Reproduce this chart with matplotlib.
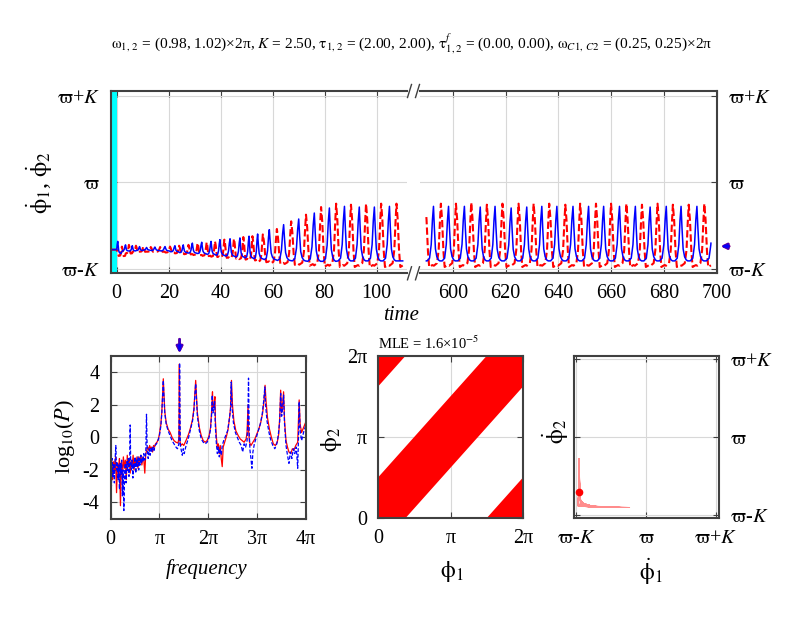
import matplotlib

matplotlib.use("Agg")
import matplotlib.pyplot as plt  # noqa: E402
import numpy as np  # noqa: E402
from matplotlib.lines import Line2D  # noqa: E402

plt.rcParams["font.family"] = ["Liberation Serif", "DejaVu Serif"]
plt.rcParams["mathtext.fontset"] = "stix"
plt.rcParams["axes.unicode_minus"] = False

# model parameters (title)
omega = [0.98, 1.02]
K = 2.50
tau = [2.00, 2.00]
tau_f = [0.00, 0.00]
omega_c = [0.25, 0.25]
mle_mant, mle_exp = 1.6, -5

# mean frequencies (units of pi) marked by arrows
mean_freq = [1.414, 1.414]

# time series, normalised (phi_dot - varpi) / K
hist_v = -0.775

# left segment (t 0..110)
blue_t_a = [0.4, 3.4, 6.0, 8.8, 11.5, 14.7, 18.6, 22.4, 25.6, 29.1, 32.7, 36.3, 39.7,
            43.6, 47.4, 50.9, 54.2, 58.7, 64.2, 70.0, 76.0, 81.8, 87.6, 93.3, 99.1, 104.9]
blue_top_a = [-0.68, -0.72, -0.73, -0.74, -0.75, -0.745, -0.74, -0.73, -0.72, -0.70, -0.69,
              -0.68, -0.66, -0.65, -0.64, -0.62, -0.595, -0.545, -0.487, -0.422, -0.353,
              -0.295, -0.276, -0.284, -0.284, -0.276]
blue_low_a = [-0.82, -0.79, -0.79, -0.785, -0.78, -0.785, -0.79, -0.80, -0.81, -0.815, -0.82,
              -0.83, -0.84, -0.85, -0.86, -0.87, -0.88, -0.89, -0.90, -0.905, -0.91, -0.91,
              -0.905, -0.905, -0.905, -0.905]
red_t_a = [2.0, 4.7, 7.4, 10.2, 13.1, 16.7, 20.5, 24.0, 27.6, 31.1, 34.6, 37.8, 41.4, 45.1,
           48.7, 52.2, 56.2, 61.6, 67.1, 72.8, 78.6, 84.4, 90.1, 95.9, 101.7, 107.6]
red_top_a = [-0.74, -0.72, -0.73, -0.74, -0.745, -0.745, -0.74, -0.73, -0.72, -0.70, -0.69,
             -0.68, -0.66, -0.65, -0.63, -0.62, -0.60, -0.537, -0.449, -0.372, -0.284,
             -0.245, -0.257, -0.245, -0.245, -0.245]
red_low_a = [-0.85, -0.82, -0.80, -0.80, -0.80, -0.80, -0.81, -0.82, -0.83, -0.84, -0.85,
             -0.86, -0.87, -0.88, -0.89, -0.90, -0.92, -0.94, -0.95, -0.96, -0.97, -0.975,
             -0.975, -0.975, -0.975, -0.975]

# right segment (t 590..697.7)
blue_t_b = [592.7, 598.4, 604.4, 610.4, 616.0, 622.1, 628.0, 633.7, 639.4, 645.5, 651.4,
            657.1, 663.1, 669.1, 674.7, 680.8, 686.4, 692.4, 698.6]
blue_top_b = [-0.276, -0.276, -0.276, -0.284, -0.276, -0.295, -0.284, -0.276, -0.276, -0.276,
              -0.276, -0.276, -0.276, -0.276, -0.284, -0.276, -0.276, -0.276, -0.28]
blue_low_b = [-0.905] * 19
red_t_b = [589.6, 595.5, 601.2, 607.0, 612.9, 618.8, 624.9, 630.6, 636.5, 642.6, 648.2,
           654.2, 659.9, 665.7, 671.6, 677.5, 683.3, 689.3, 695.2]
red_top_b = [-0.245, -0.245, -0.245, -0.232, -0.257, -0.245, -0.245, -0.245, -0.245, -0.257,
             -0.245, -0.245, -0.245, -0.245, -0.257, -0.245, -0.257, -0.257, -0.245]
red_low_b = [-0.975] * 19
t_end_a, t_start_b, t_end_b = 110.0, 590.0, 697.7

# power spectra: frequency / pi, log10(P)
red_f = [0.00, 0.02, 0.04, 0.06, 0.08, 0.10, 0.12, 0.14, 0.16, 0.18, 0.20, 0.22, 0.24, 0.26,
         0.28, 0.30, 0.32, 0.34, 0.36, 0.38, 0.40, 0.42, 0.44, 0.46, 0.48, 0.50, 0.52, 0.54,
         0.56, 0.58, 0.60, 0.62, 0.64, 0.66, 0.68, 0.70, 0.72, 0.74, 0.76, 0.78, 0.80, 0.82,
         0.84, 0.86, 0.88, 0.90, 0.92, 0.95, 0.98, 1.00, 1.03, 1.05, 1.07, 1.08, 1.09, 1.11,
         1.14, 1.18, 1.22, 1.26, 1.30, 1.34, 1.38, 1.40, 1.41, 1.42, 1.44, 1.47, 1.50, 1.53,
         1.56, 1.60, 1.64, 1.68, 1.71, 1.73, 1.745, 1.76, 1.78, 1.82, 1.86, 1.90, 1.94, 1.98,
         2.02, 2.05, 2.07, 2.09, 2.10, 2.12, 2.14, 2.15, 2.17, 2.19, 2.21, 2.23, 2.25, 2.27,
         2.29, 2.31, 2.34, 2.38, 2.41, 2.44, 2.46, 2.48, 2.50, 2.53, 2.57, 2.62, 2.66, 2.70,
         2.74, 2.78, 2.80, 2.82, 2.83, 2.85, 2.88, 2.92, 2.96, 3.00, 3.04, 3.08, 3.12, 3.15,
         3.17, 3.19, 3.22, 3.26, 3.30, 3.34, 3.38, 3.42, 3.45, 3.47, 3.49, 3.51, 3.53, 3.55,
         3.57, 3.60, 3.63, 3.66, 3.70, 3.73, 3.76, 3.80, 3.84, 3.87, 3.89, 3.92, 3.96, 4.00]
red_p = [-2.2, -1.4, -2.6, -1.5, -2.0, -1.2, -3.4, -1.6, -2.1, -1.3, -4.2, -1.5, -2.3, -1.2,
         -1.9, -1.4, -2.6, -1.1, -1.8, -1.3, -2.2, -1.4, -1.8, -1.1, -2.0, -1.3, -1.6, -1.2,
         -1.9, -1.2, -1.5, -1.1, -1.7, -1.2, -1.4, -2.2, -1.0, -0.8, -0.6, -0.8, -0.5, -0.7,
         -0.6, -0.9, -0.5, -0.6, -0.4, -0.3, -0.1, 0.2, 0.8, 1.6, 3.0, 3.6, 2.9, 1.6,
         0.9, 0.5, 0.3, 0.0, -0.2, -0.3, -0.35, -0.1, 4.5, -0.2, -0.5, -0.4, -0.5, -0.3,
         -0.1, 0.2, 0.6, 1.1, 1.8, 2.8, 3.5, 2.6, 1.5, 0.6, 0.1, -0.2, -0.3, -0.2,
         0.1, 0.6, 1.5, 2.8, 1.8, 2.0, 2.5, 1.0, 0.0, -0.6, -0.4, -1.0, -0.5, -1.3,
         -1.8, -0.6, -0.3, 0.1, 0.5, 1.2, 1.8, 3.5, 2.0, 1.0, 0.4, 0.1, -0.1, -0.2,
         -0.3, -0.1, 0.3, 2.0, 0.5, -0.3, -0.5, -0.3, -0.1, 0.2, 0.5, 0.9, 1.5, 2.3,
         3.2, 2.2, 1.2, 0.5, 0.0, -0.4, -0.5, -0.3, 0.2, 1.2, 2.9, 1.5, 2.0, 2.8,
         1.0, -0.2, -0.6, -0.9, -1.0, -0.7, -0.8, -0.5, -0.3, 2.3, 0.8, 0.3, 0.6, 0.9]
blue_f = [0.00, 0.015, 0.03, 0.045, 0.06, 0.075, 0.09, 0.105, 0.12, 0.135, 0.15, 0.165, 0.18,
          0.195, 0.21, 0.225, 0.24, 0.255, 0.27, 0.285, 0.30, 0.315, 0.33, 0.345, 0.36, 0.375,
          0.39, 0.40, 0.41, 0.425, 0.44, 0.455, 0.47, 0.485, 0.50, 0.515, 0.53, 0.545, 0.56,
          0.575, 0.59, 0.605, 0.62, 0.635, 0.65, 0.665, 0.68, 0.70, 0.72, 0.735, 0.75, 0.77,
          0.79, 0.81, 0.83, 0.85, 0.87, 0.89, 0.91, 0.94, 0.97, 1.00, 1.03, 1.05, 1.07, 1.08,
          1.09, 1.11, 1.14, 1.18, 1.22, 1.26, 1.30, 1.34, 1.37, 1.40, 1.415, 1.43, 1.45, 1.47,
          1.49, 1.51, 1.54, 1.57, 1.60, 1.64, 1.68, 1.71, 1.73, 1.745, 1.76, 1.78, 1.82, 1.86,
          1.90, 1.94, 1.98, 2.02, 2.05, 2.07, 2.085, 2.10, 2.12, 2.135, 2.15, 2.17, 2.19, 2.21,
          2.23, 2.25, 2.27, 2.29, 2.32, 2.36, 2.40, 2.43, 2.46, 2.475, 2.49, 2.52, 2.56, 2.60,
          2.64, 2.68, 2.71, 2.74, 2.77, 2.80, 2.815, 2.83, 2.845, 2.86, 2.88, 2.90, 2.92, 2.95,
          2.99, 3.03, 3.07, 3.11, 3.14, 3.165, 3.18, 3.21, 3.25, 3.29, 3.33, 3.37, 3.41, 3.44,
          3.47, 3.49, 3.51, 3.53, 3.55, 3.57, 3.60, 3.63, 3.66, 3.69, 3.72, 3.75, 3.78, 3.81,
          3.84, 3.86, 3.87, 3.89, 3.92, 3.96, 4.00]
blue_p = [-1.8, -3.0, -1.3, -2.4, -1.6, -2.8, -1.4, -0.5, -2.0, -1.5, -2.6, -1.7, -3.2,
          -1.6, -2.3, -1.4, -3.6, -2.0, -4.5, -2.2, -1.6, -2.8, -1.5, -2.1, -1.3, -2.4,
          -1.6, 0.76, -1.5, -2.0, -1.4, -2.5, -1.6, -1.9, -1.2, -2.2, -1.4, -1.8, -1.2,
          -2.0, -1.3, -1.7, -1.1, -1.6, -1.2, -1.5, -1.0, -1.4, -1.0, 1.42, -0.8, -1.3,
          -0.7, -1.1, -0.6, -0.9, -0.6, -0.8, -0.5, -0.4, -0.2, 0.1, 0.7, 1.5, 2.9, 3.5,
          2.7, 1.5, 0.8, 0.4, 0.1, -0.2, -0.4, -0.6, -0.7, -0.4, 4.57, -0.5, -0.8, -1.1,
          -0.7, -1.0, -0.6, -0.3, 0.0, 0.5, 1.0, 1.7, 2.7, 3.3, 2.4, 1.3, 0.4, -0.1,
          -0.3, -0.4, -0.3, 0.0, 0.5, 1.3, 2.6, 1.5, 1.9, 2.2, 0.6, -0.4, -1.0, -0.6,
          -1.2, -0.7, -1.1, -0.5, -0.2, 0.1, 0.4, 1.0, 1.7, 3.4, 1.9, 0.9, 0.3, 0.0,
          -0.3, -0.5, -0.9, -0.4, -0.6, -0.2, 1.0, 3.64, 0.2, -0.8, -1.3, -1.9, -0.9, -0.4,
          0.0, 0.4, 0.8, 1.4, 2.2, 3.1, 2.0, 1.0, 0.3, -0.2, -0.5, -0.7, -0.4, 0.1,
          1.0, 2.7, 1.3, 1.8, 2.6, 0.8, -0.5, -1.1, -1.6, -0.9, -1.3, -0.7, -1.0, -0.6,
          -1.9, 0.5, 2.2, 0.4, -0.2, 0.3, 0.7]

# phase difference band phi2 - phi1 (units of pi)
band_lo, band_hi = -0.36, 0.52

# spike shapes (fraction of local period, fraction of amplitude)
blue_offs = [-0.42, -0.26, -0.15, -0.07, 0.0, 0.06, 0.13, 0.22, 0.32, 0.42]
blue_fracs = [0.0, 0.05, 0.3, 0.75, 1.0, 0.6, 0.22, 0.08, 0.02, 0.0]
red_offs = [-0.45, -0.25, -0.14, -0.06, 0.0, 0.08, 0.17, 0.25, 0.45]
red_fracs = [0.02, 0.06, 0.27, 0.72, 1.0, 0.75, 0.25, 0.0, 0.03]

W, H = 800, 618
RED, BLUE, FRAME = "#ff0000", "#0000ff", "#404040"
TICK_FS = 14.5


def rect(left, right, top, bottom):
    return [left / W, 1 - bottom / H, (right - left) / W, (bottom - top) / H]


def spikes(tp, top, low, offs, fracs):
    tp = np.asarray(tp, dtype=float)
    gaps = np.diff(tp)
    before = np.r_[gaps[0], gaps]
    after = np.r_[gaps, gaps[-1]]
    t, v = [], []
    for i in range(len(tp)):
        for o, f in zip(offs, fracs):
            p = before[i] if o < 0 else after[i]
            t.append(tp[i] + o * p)
            v.append(low[i] + f * (top[i] - low[i]))
    order = np.argsort(t)
    return np.asarray(t)[order], np.asarray(v)[order]


def clip(t, v, t0, t1):
    keep = (t > t0) & (t < t1)
    tt = np.r_[t0, t[keep], t1]
    return tt, np.interp(tt, t, v)


def style_axes(ax):
    for s in ax.spines.values():
        s.set_color(FRAME)
        s.set_linewidth(1.5)
    ax.tick_params(direction="in", length=4, width=0.8, colors=FRAME, labelcolor="black",
                   labelsize=TICK_FS, pad=8)
    ax.grid(True, color="#d8d8d8", linewidth=0.8)
    ax.set_axisbelow(True)


speed_ticks = [-1, 0, 1]
speed_labels = [r"$\mathrm{\varpi}$-$K$", r"$\mathrm{\varpi}$", r"$\mathrm{\varpi}$+$K$"]

fig = plt.figure(figsize=(W / 100, H / 100), dpi=100)

# ---- top: time series with broken axis
ax1 = fig.add_axes(rect(111, 407, 91, 273.3))
ax2 = fig.add_axes(rect(420, 717, 91, 273.3))

bt, bv = spikes(blue_t_a, blue_top_a, blue_low_a, blue_offs, blue_fracs)
rt, rv = spikes(red_t_a, red_top_a, red_low_a, red_offs, red_fracs)
keep_b = (bt > 0) & (bt < t_end_a)
keep_r = (rt > 0) & (rt < t_end_a)
bt_a = np.r_[-tau[0], 0.0, bt[keep_b], t_end_a]
bv_a = np.r_[hist_v, hist_v, bv[keep_b], np.interp(t_end_a, bt, bv)]
rt_a = np.r_[-tau[0], 0.0, rt[keep_r], t_end_a]
rv_a = np.r_[hist_v, hist_v, rv[keep_r], np.interp(t_end_a, rt, rv)]

bt2, bv2 = spikes(blue_t_b, blue_top_b, blue_low_b, blue_offs, blue_fracs)
rt2, rv2 = spikes(red_t_b, red_top_b, red_low_b, red_offs, red_fracs)
bt_b, bv_b = clip(bt2, bv2, t_start_b, t_end_b)
rt_b, rv_b = clip(rt2, rv2, t_start_b, t_end_b)

ax1.axvspan(-tau[0], 0, color="cyan", lw=0)
for ax, (rtt, rvv, btt, bvv) in ((ax1, (rt_a, rv_a, bt_a, bv_a)), (ax2, (rt_b, rv_b, bt_b, bv_b))):
    style_axes(ax)
    ax.plot(rtt, rvv, color=RED, lw=1.5, dashes=(3.5, 1.5))
    ax.plot(btt, bvv, color=BLUE, lw=1.1)
    ax.set_ylim(-1.048, 1.054)
    ax.set_yticks(speed_ticks)

ax1.set_xlim(-2.19, 111.65)
ax1.set_xticks([0, 20, 40, 60, 80, 100])
ax1.set_yticklabels(speed_labels)
ax1.spines["right"].set_visible(False)
ax1.tick_params(top=True, right=False)

ax2.set_xlim(587.6, 700)
ax2.set_xticks([600, 620, 640, 660, 680, 700])
ax2.spines["left"].set_visible(False)
ax2.tick_params(top=True, left=False, right=True, labelleft=False, labelright=True)
ax2.set_yticklabels(speed_labels)

# break marks
for xc in (409.5, 417.5):
    for yc in (91, 273.3):
        fig.add_artist(Line2D([(xc - 2) / W, (xc + 2) / W], [1 - (yc + 6.5) / H, 1 - (yc - 6.5) / H],
                              color=FRAME, lw=1.0))

om_bar = np.mean(omega) * 2 * np.pi
for mf, col, a in zip(mean_freq, (RED, BLUE), (1.0, 0.75)):
    v = (mf * np.pi - om_bar) / K
    ax2.annotate("", xy=(1.003, v), xycoords=("axes fraction", "data"), xytext=(1.05, v),
                 arrowprops=dict(arrowstyle="-|>", color=col, lw=2.0, alpha=a, mutation_scale=8),
                 annotation_clip=False)

fig.text(401 / W, 1 - 316 / H, "time", style="italic", fontsize=15, ha="center", va="center")
fig.text(40 / W, 1 - 183 / H, r"$\dot{\mathrm{\phi}}_1$, $\dot{\mathrm{\phi}}_2$", rotation=90,
         fontsize=17.5, ha="center", va="center")

title = (r"$\mathrm{\omega}_{1,\,2}$" + f" = ({omega[0]:.2f}, {omega[1]:.2f})×2π, " + r"$K$"
         + f" = {K:.2f}, " + r"$\mathrm{\tau}_{1,2}$" + f" = ({tau[0]:.2f}, {tau[1]:.2f}), "
         + r"$\mathrm{\tau}^{f}_{1,2}$" + f" = ({tau_f[0]:.2f}, {tau_f[1]:.2f}), "
         + r"$\mathrm{\omega}_{C1,\,C2}$" + f" = ({omega_c[0]:.2f}, {omega_c[1]:.2f})×2π")
fig.text(411.5 / W, 1 - 44 / H, title, fontsize=11.1, ha="center", va="center")

# ---- bottom left: spectra
axs = fig.add_axes(rect(110.7, 305.5, 356, 518.7))
style_axes(axs)
axs.plot(red_f, red_p, color=RED, lw=0.9)
axs.plot(blue_f, blue_p, color=BLUE, lw=0.9, dashes=(3, 1.5))
axs.set_xlim(0, 4)
axs.set_ylim(-5, 5)
axs.set_xticks([0, 1, 2, 3, 4])
axs.set_xticklabels(["0", "π", "2π", "3π", "4π"])
axs.set_yticks([-4, -2, 0, 2, 4])
axs.tick_params(top=True, right=True)
for mf, col, a in zip(mean_freq, (RED, BLUE), (1.0, 0.75)):
    axs.annotate("", xy=(mf, 1.0), xycoords=("data", "axes fraction"), xytext=(mf, 1.12),
                 arrowprops=dict(arrowstyle="-|>", color=col, lw=2.0, alpha=a, mutation_scale=9),
                 annotation_clip=False)
fig.text(206.7 / W, 1 - 569 / H, "frequency", style="italic", fontsize=15, ha="center", va="center")
fig.text(65 / W, 1 - 437 / H, r"log$_{10}$($P$)", rotation=90, fontsize=16, ha="center", va="center")

# ---- bottom middle: phases
axp = fig.add_axes(rect(378.3, 523.3, 356, 518.3))
style_axes(axp)
phi = np.array([0.0, 2.0])
for shift in (-2, 0, 2):
    axp.fill_between(phi, phi + band_lo + shift, phi + band_hi + shift, color=RED, lw=0)
axp.set_xlim(0, 2)
axp.set_ylim(0, 2)
axp.set_xticks([0, 1, 2])
axp.set_yticks([0, 1, 2])
axp.set_xticklabels(["0", "π", "2π"])
axp.set_yticklabels(["0", "π", "2π"])
axp.tick_params(top=True, right=True)
fig.text(378 / W, 1 - 349 / H, f"MLE = {mle_mant:.1f}×10" + r"$^{" + f"{mle_exp}" + r"}$",
         fontsize=10.5, ha="left", va="baseline")
fig.text(452 / W, 1 - 572 / H, r"$\mathrm{\phi}_1$", fontsize=17, ha="center", va="center")
fig.text(331 / W, 1 - 440 / H, r"$\mathrm{\phi}_2$", rotation=90, fontsize=17, ha="center",
         va="center")

# ---- bottom right: phase velocities
axv = fig.add_axes(rect(574.3, 719, 356, 518.3))
style_axes(axv)
tt = np.unique(np.r_[rt_b, bt_b])
axv.plot(np.interp(tt, rt_b, rv_b), np.interp(tt, bt_b, bv_b), color=RED, lw=0.6, alpha=0.45)
axv.plot(rv_b[-1], bv_b[-1], "o", color=RED, ms=4.5)
axv.set_xlim(-1.025, 1.045)
axv.set_ylim(-1.045, 1.045)
axv.set_xticks(speed_ticks)
axv.set_yticks(speed_ticks)
axv.set_xticklabels(speed_labels)
axv.set_yticklabels(speed_labels)
axv.tick_params(top=True, right=True, labelleft=False, labelright=True)
fig.text(651 / W, 1 - 572 / H, r"$\dot{\mathrm{\phi}}_1$", fontsize=17, ha="center", va="center")
fig.text(556 / W, 1 - 432 / H, r"$\dot{\mathrm{\phi}}_2$", rotation=90, fontsize=17, ha="center",
         va="center")

fig.savefig("out.png", dpi=100)
